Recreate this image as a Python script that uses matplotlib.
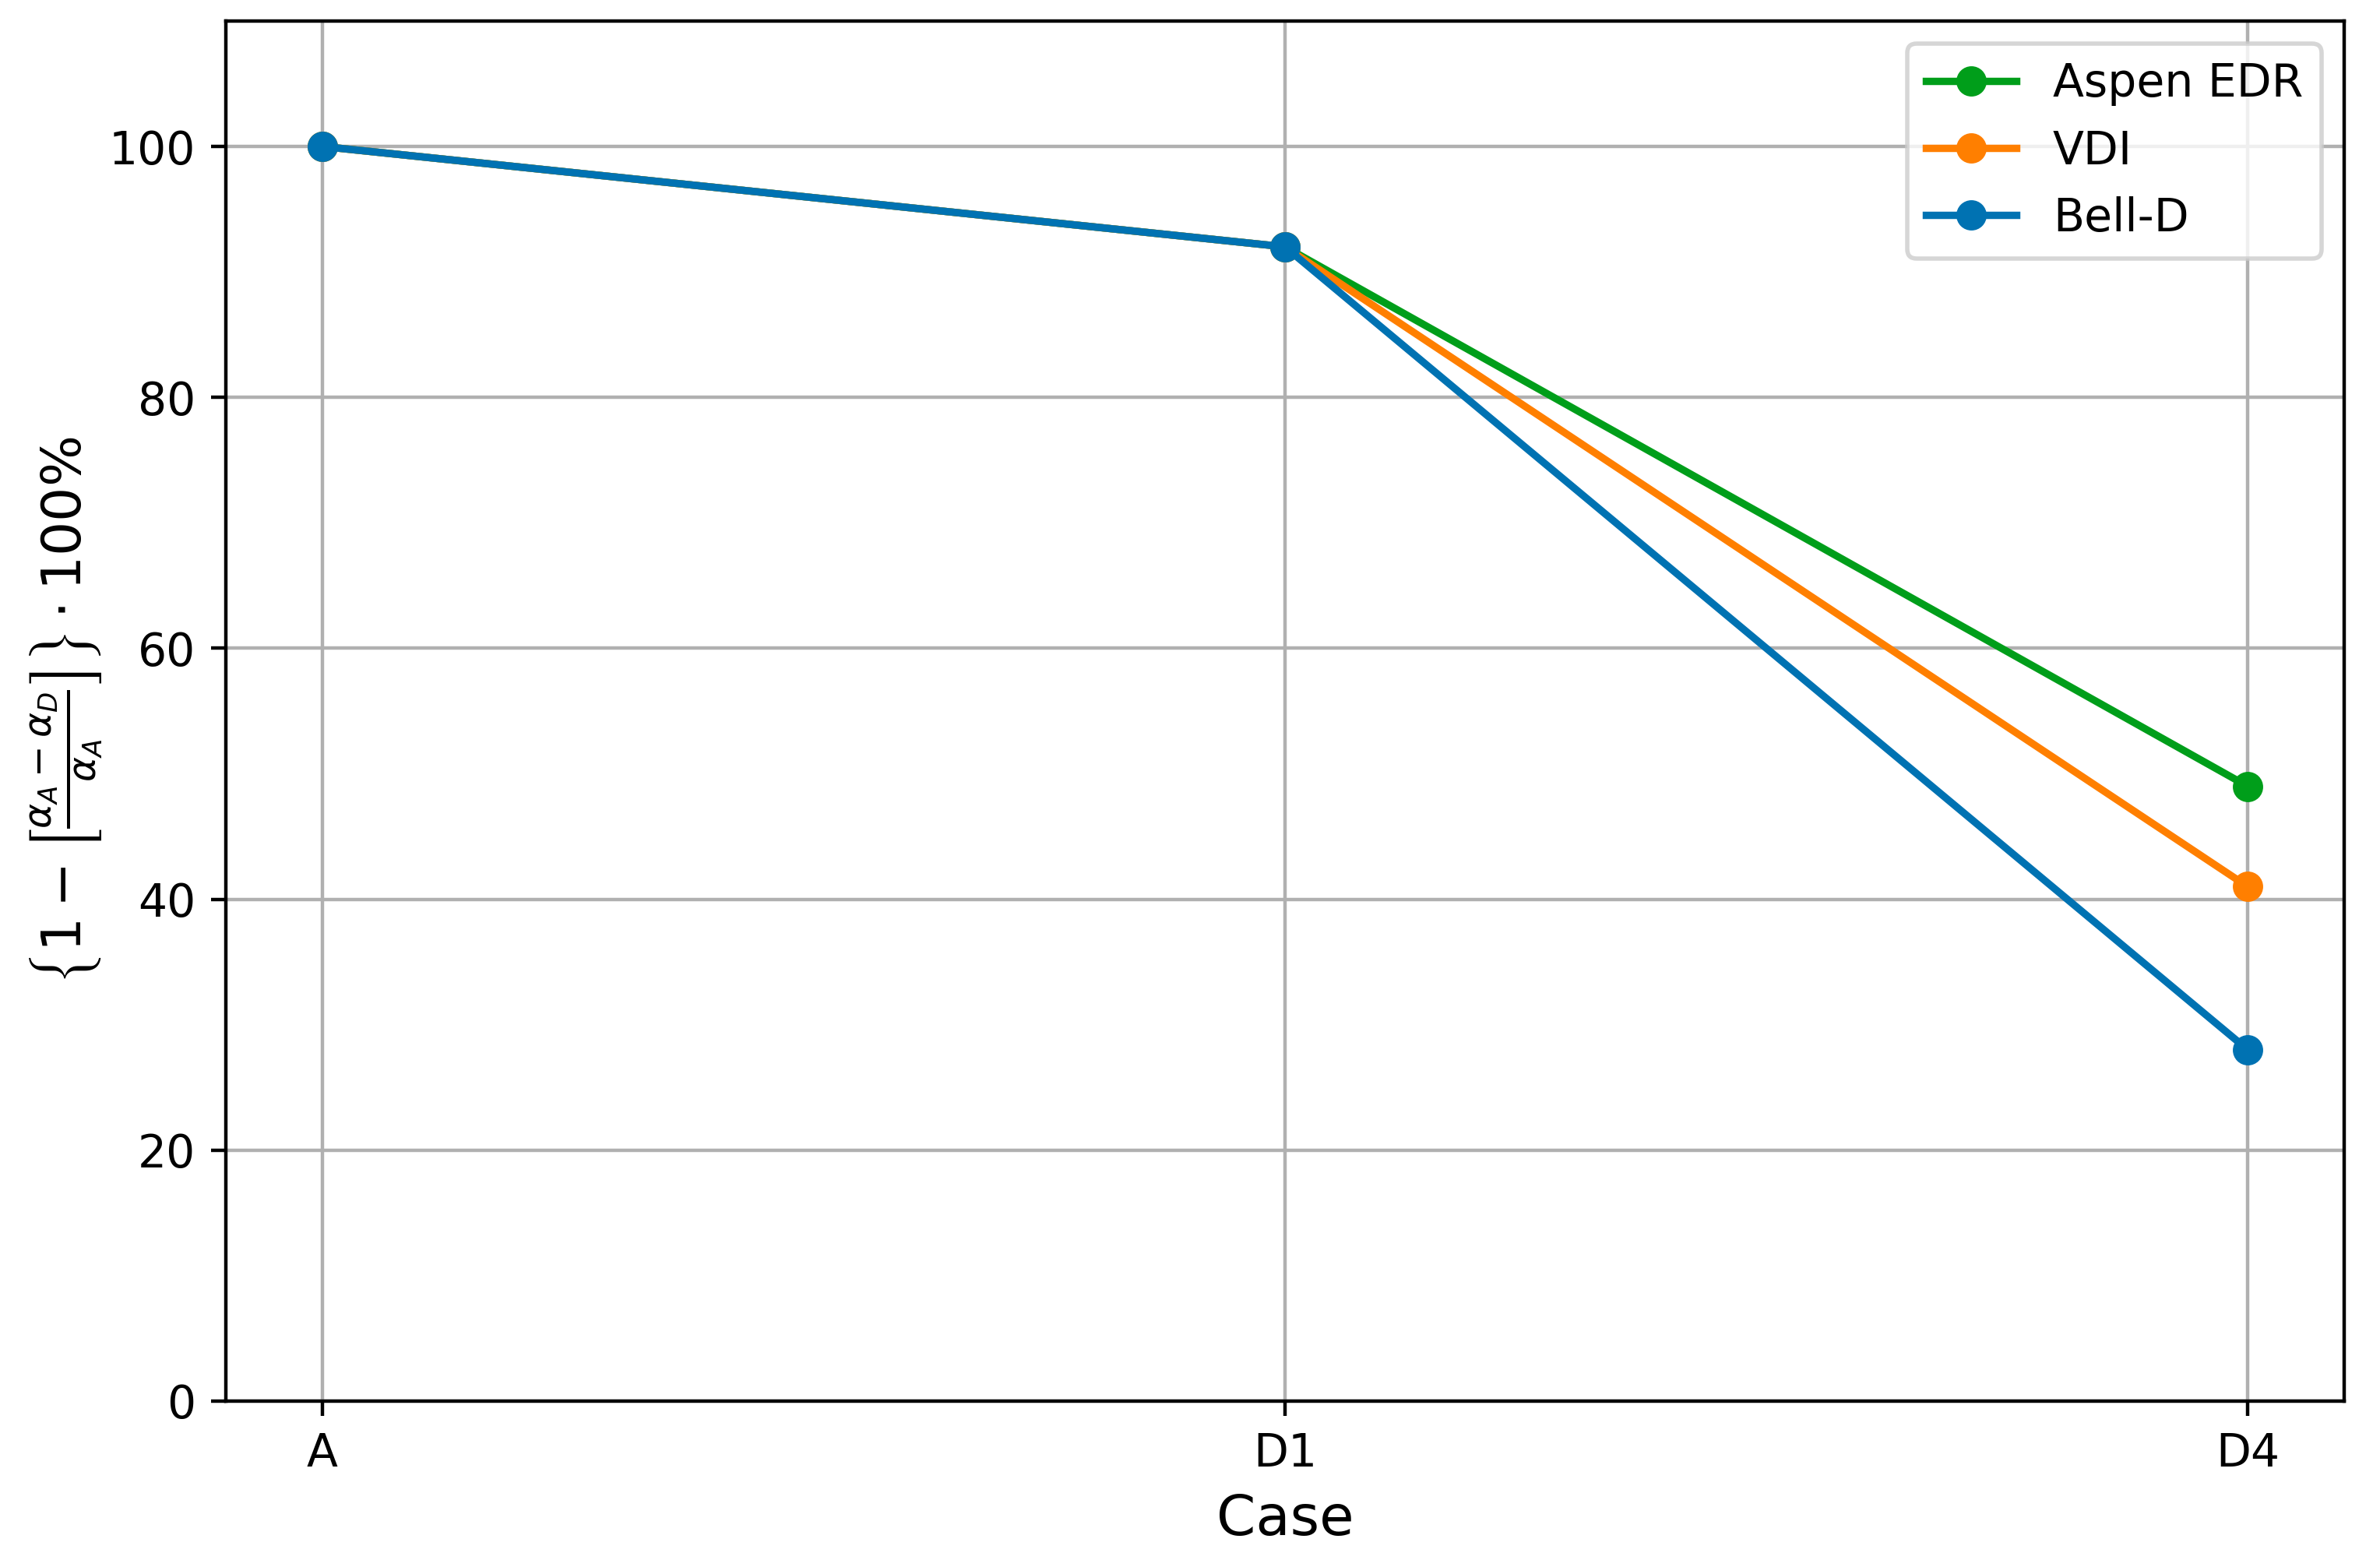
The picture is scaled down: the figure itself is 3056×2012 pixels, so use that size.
import matplotlib
matplotlib.use("Agg")
import matplotlib.pyplot as plt

# data
cases = ["A", "D1", "D4"]
aspen_edr = [100, 92, 49]
vdi = [100, 92, 41]
bell_d = [100, 92, 28]

series_names = ["Aspen EDR", "VDI", "Bell-D"]
series_colors = ["#009e1a", "#ff7f00", "#0072b2"]

fig = plt.figure(figsize=(7.64, 5.03), dpi=400)
ax = fig.add_axes([0.0949, 0.1059, 0.8900, 0.8807])

for vals, name, col in zip([aspen_edr, vdi, bell_d], series_names, series_colors):
    ax.plot(cases, vals, marker="o", color=col, label=name, linewidth=1.7, markersize=6)

ax.set_ylim(0, 110)
ax.set_yticks([0, 20, 40, 60, 80, 100])
ax.tick_params(labelsize=10.5)
ax.set_xlabel("Case", fontsize=13)
ax.set_ylabel(r"$\left\{1-\left[\frac{\alpha_A-\alpha_D}{\alpha_A}\right]\right\}\cdot 100\%$",
              fontsize=12.5, labelpad=1)
ax.grid(True)
ax.legend(loc="upper right", fontsize=10.5)

fig.savefig("out.png", dpi=400)
